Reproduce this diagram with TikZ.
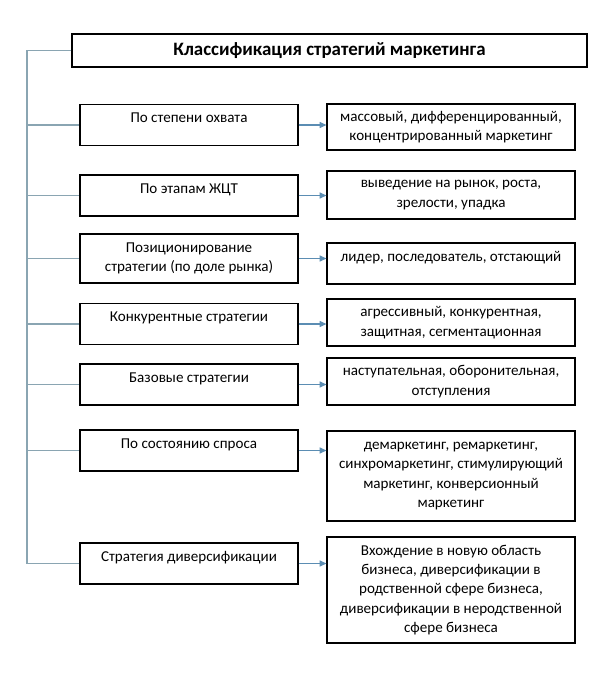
\documentclass[tikz,border=0pt]{standalone}
\usepackage{fontspec}
\setmainfont{Carlito}
\usetikzlibrary{arrows.meta}

\definecolor{treeline}{HTML}{8AA5B2}
\definecolor{arrowblue}{HTML}{5B8DB3}

\tikzset{
  box/.style={draw, line width=0.9pt, align=center, inner sep=0pt,
    font=\fontsize{11.3}{14.5}\selectfont},
  leftbox/.style={box, minimum width=163.5pt, minimum height=30.75pt},
  uptext/.style={text depth=10.5pt},
  rightbox/.style={box, minimum width=186pt},
  branch/.style={treeline, line width=0.8pt},
  feed/.style={arrowblue, line width=0.8pt, -{Triangle[length=5pt,width=4.5pt]}}
}

\begin{document}
\begin{tikzpicture}[x=0.75pt, y=-0.75pt]
\useasboundingbox (0,0) rectangle (605,678);

%% title
\node[box, minimum width=386.25pt, minimum height=24.75pt,
  font=\fontsize{14.2}{16}\selectfont\bfseries] (title) at (329.5,50.5)
  {Классификация стратегий маркетинга};

%% left column
\node[leftbox, uptext] (l1) at (189,125)   {По степени охвата};
\node[leftbox, uptext] (l2) at (189,195.5) {По этапам ЖЦТ};
\node[leftbox, minimum height=36.75pt] (l3) at (189,258.5)
  {Позиционирование\\стратегии (по доле рынка)};
\node[leftbox, uptext] (l4) at (189,324)   {Конкурентные стратегии};
\node[leftbox, uptext] (l5) at (189,384.5) {Базовые стратегии};
\node[leftbox, uptext] (l6) at (189,450.5) {По состоянию спроса};
\node[leftbox, uptext] (l7) at (189,563.5) {Стратегия диверсификации};

%% right column
\node[rightbox, minimum height=34.5pt] (r1) at (451,127)
  {массовый, дифференцированный,\\концентрированный маркетинг};
\node[rightbox, minimum height=36pt] (r2) at (451,195)
  {выведение на рынок, роста,\\зрелости, упадка};
\node[rightbox, minimum height=30.75pt, uptext] (r3) at (451,263.5)
  {лидер, последователь, отстающий};
\node[rightbox, minimum height=35.25pt] (r4) at (451,322.5)
  {агрессивный, конкурентная,\\защитная, сегментационная};
\node[rightbox, minimum height=35.25pt] (r5) at (451,381.5)
  {наступательная, оборонительная,\\отступления};
\node[rightbox, minimum height=67.5pt] (r6) at (451,476)
  {демаркетинг, ремаркетинг,\\синхромаркетинг, стимулирующий\\маркетинг, конверсионный\\маркетинг};
\node[rightbox, minimum height=79.5pt] (r7) at (451,590)
  {Вхождение в новую область\\бизнеса, диверсификации в\\родственной сфере бизнеса,\\диверсификации в неродственной\\сфере бизнеса};

%% tree
\coordinate (trunk) at (27,50.5);
\draw[branch] (title.west) -- (trunk) -- (trunk |- l7.west) -- (l7.west);
\foreach \i in {1,...,6}
  \draw[branch] (trunk |- l\i.west) -- (l\i.west);

%% arrows
\foreach \i in {1,...,7}
  \draw[feed] (l\i.east) -- (l\i.east -| r\i.west);
\end{tikzpicture}
\end{document}
